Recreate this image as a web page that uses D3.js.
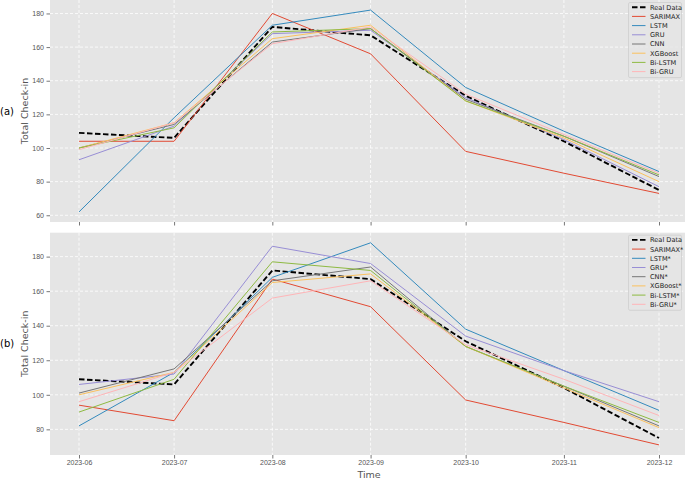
<!DOCTYPE html>
<html lang="en">
<head>
    <meta charset="UTF-8">
    <title>Total Check-in: Real Data vs Model Forecasts</title>
    <style>
        body {
            margin: 0;
            background-color: #ffffff;
            overflow: hidden;
        }
        svg {
            font-family: "DejaVu Sans", sans-serif;
            display: block;
        }
        .grid line {
            stroke: #ffffff;
            stroke-width: 0.8;
            stroke-dasharray: 3,2;
        }
        .tick-label {
            fill: #555555;
            font-size: 7px;
        }
        .axis-title {
            fill: #555555;
            font-size: 9.5px;
        }
        .legend text {
            fill: #222222;
            font-size: 6.6px;
        }
    </style>
</head>
<body>
    <svg id="chart" width="685" height="489"></svg>
    <script src="https://d3js.org/d3.v7.min.js"></script>
    <script>
        // Data
        const months = ["2023-06", "2023-07", "2023-08", "2023-09", "2023-10", "2023-11", "2023-12"];
        const realData = [109, 106, 172, 167, 131, 104, 75];

        const modelsA = ["SARIMAX", "LSTM", "GRU", "CNN", "XGBoost", "Bi-LSTM", "Bi-GRU"];
        const sarimaxA = [104, 104, 180, 156, 98, 85, 73];
        const lstmA = [62, 118, 173, 182, 136, 110, 86];
        const gruA = [93, 113, 168, 170, 130, 105, 77];
        const cnnA = [100, 114, 163, 171, 129, 107, 83];
        const xgbA = [100, 115, 165, 173, 128, 106, 80];
        const bilstmA = [100, 112, 169, 171, 128, 107, 84];
        const bigruA = [99, 115, 162, 172, 132, 108, 85];

        const modelsB = ["SARIMAX*", "LSTM*", "GRU*", "CNN*", "XGBoost*", "Bi-LSTM*", "Bi-GRU*"];
        const sarimaxB = [94, 85, 167, 151, 97, 84, 71];
        const lstmB = [82, 113, 168, 188, 138, 114, 91];
        const gruB = [106, 112, 186, 176, 134, 114, 96];
        const cnnB = [101, 115, 166, 174, 128, 105, 82];
        const xgbB = [100, 113, 165, 170, 128, 104, 81];
        const bilstmB = [90, 109, 177, 172, 128, 105, 84];
        const bigruB = [96, 113, 156, 166, 129, 109, 88];

        const ticksA = [60, 80, 100, 120, 140, 160, 180];
        const ticksB = [80, 100, 120, 140, 160, 180];

        // ggplot style colour cycle
        const colors = ["#E24A33", "#348ABD", "#988ED5", "#777777", "#FBC15E", "#8EBA42", "#FFB5B8"];

        const svg = d3.select("#chart");
        const parseMonth = d3.timeParse("%Y-%m");
        const dates = months.map(parseMonth);

        const plotLeft = 50, plotRight = 688;

        // x scale with matplotlib-like 5% padding
        const t0 = dates[0].getTime(), t1 = dates[dates.length - 1].getTime();
        const tPad = (t1 - t0) * 0.05;
        const x = d3.scaleTime()
            .domain([new Date(t0 - tPad), new Date(t1 + tPad)])
            .range([plotLeft, plotRight]);

        svg.append("defs").selectAll("clipPath")
            .data(["a", "b"])
            .join("clipPath")
            .attr("id", d => "clip-" + d)
            .append("rect");

        function drawPanel(p) {
            const g = svg.append("g");
            const allValues = realData.concat(...p.series);
            const lo = d3.min(allValues), hi = d3.max(allValues);
            const pad = (hi - lo) * 0.05;
            const y = d3.scaleLinear()
                .domain([lo - pad, hi + pad])
                .range([p.bottom, p.top]);

            svg.select("#clip-" + p.id + " rect")
                .attr("x", plotLeft).attr("y", p.top)
                .attr("width", plotRight - plotLeft).attr("height", p.bottom - p.top);

            g.append("rect")
                .attr("x", plotLeft)
                .attr("y", p.top)
                .attr("width", plotRight - plotLeft)
                .attr("height", p.bottom - p.top)
                .attr("fill", "#E5E5E5");

            // grid
            const grid = g.append("g").attr("class", "grid");
            grid.selectAll(".gy")
                .data(p.ticks)
                .join("line")
                .attr("x1", plotLeft).attr("x2", plotRight)
                .attr("y1", d => y(d)).attr("y2", d => y(d));
            grid.selectAll(".gx")
                .data(dates)
                .join("line")
                .attr("x1", d => x(d)).attr("x2", d => x(d))
                .attr("y1", p.top).attr("y2", p.bottom);

            // axes
            const yAxis = g.append("g")
                .attr("transform", `translate(${plotLeft},0)`)
                .call(d3.axisLeft(y).tickValues(p.ticks).tickSize(3.5).tickPadding(2.5));
            yAxis.select(".domain").remove();
            yAxis.selectAll(".tick line").attr("stroke", "#555555").attr("stroke-width", 0.8);
            yAxis.selectAll(".tick text").attr("class", "tick-label").attr("fill", null);

            const xAxis = g.append("g")
                .attr("transform", `translate(0,${p.bottom})`)
                .call(d3.axisBottom(x).tickValues(dates).tickSize(3.5).tickPadding(2)
                    .tickFormat(p.showX ? d3.timeFormat("%Y-%m") : () => ""));
            xAxis.select(".domain").remove();
            xAxis.selectAll(".tick line").attr("stroke", "#555555").attr("stroke-width", 0.8);
            xAxis.selectAll(".tick text").attr("class", "tick-label").attr("fill", null);

            // lines
            const line = d3.line()
                .x((d, i) => x(dates[i]))
                .y(d => y(d));
            const lines = g.append("g").attr("clip-path", `url(#clip-${p.id})`);
            lines.append("path")
                .datum(realData)
                .attr("d", line)
                .attr("fill", "none")
                .attr("stroke", "#000000")
                .attr("stroke-width", 1.9)
                .attr("stroke-dasharray", "5.5,2.5");
            p.series.forEach((s, i) => {
                lines.append("path")
                    .datum(s)
                    .attr("d", line)
                    .attr("fill", "none")
                    .attr("stroke", colors[i])
                    .attr("stroke-width", 1);
            });

            // y title and panel label
            const midY = (p.top + p.bottom) / 2;
            g.append("text")
                .attr("class", "axis-title")
                .attr("transform", `translate(28,${midY}) rotate(-90)`)
                .attr("text-anchor", "middle")
                .text("Total Check-in");
            g.append("text")
                .attr("x", 0)
                .attr("y", midY + 3.5)
                .attr("font-size", 10)
                .attr("fill", "#000000")
                .text(p.label);

            // legend
            const names = ["Real Data"].concat(p.names);
            const step = 9.2;
            const lg = g.append("g").attr("class", "legend");
            lg.append("rect")
                .attr("x", 628.5)
                .attr("y", p.top + 2.5)
                .attr("width", 53)
                .attr("height", names.length * step + 1.5)
                .attr("rx", 1.5)
                .attr("fill", "#E5E5E5")
                .attr("fill-opacity", 0.85)
                .attr("stroke", "#cccccc")
                .attr("stroke-width", 0.7);
            names.forEach((n, i) => {
                const cy = p.top + 7.2 + i * step;
                lg.append("line")
                    .attr("x1", 632).attr("x2", 645.5)
                    .attr("y1", cy).attr("y2", cy)
                    .attr("stroke", i === 0 ? "#000000" : colors[i - 1])
                    .attr("stroke-width", i === 0 ? 1.9 : 1)
                    .attr("stroke-dasharray", i === 0 ? "5.5,2.5" : null);
                lg.append("text")
                    .attr("x", 650)
                    .attr("y", cy + 2.4)
                    .text(n);
            });
        }

        drawPanel({
            id: "a", top: 0, bottom: 222, label: "(a)", showX: false, ticks: ticksA, names: modelsA,
            series: [sarimaxA, lstmA, gruA, cnnA, xgbA, bilstmA, bigruA]
        });
        drawPanel({
            id: "b", top: 232.7, bottom: 455, label: "(b)", showX: true, ticks: ticksB, names: modelsB,
            series: [sarimaxB, lstmB, gruB, cnnB, xgbB, bilstmB, bigruB]
        });

        svg.append("text")
            .attr("class", "axis-title")
            .attr("x", (plotLeft + plotRight) / 2)
            .attr("y", 477.5)
            .attr("text-anchor", "middle")
            .text("Time");
    </script>
</body>
</html>
